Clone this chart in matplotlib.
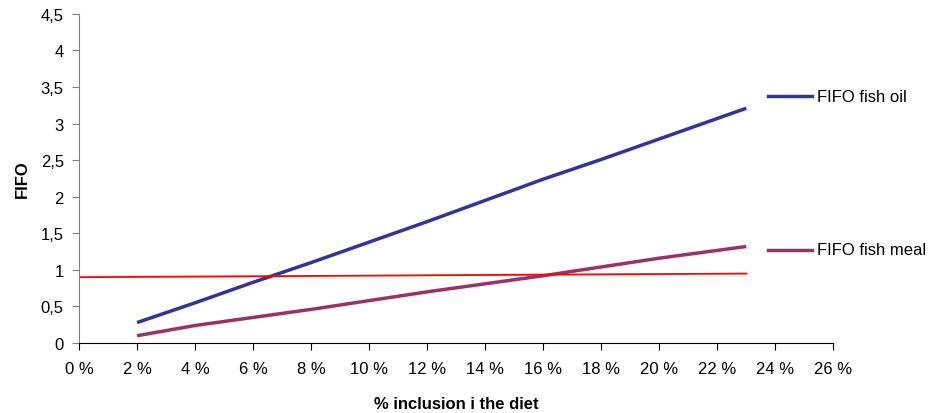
import matplotlib
matplotlib.use('Agg')
import matplotlib.pyplot as plt
from matplotlib.lines import Line2D
from matplotlib.ticker import FuncFormatter, MultipleLocator

plt.rcParams['font.family'] = ['Liberation Sans', 'DejaVu Sans']

# inclusion level (%) and FIFO values
incl = [2, 4, 6, 8, 10, 12, 14, 16, 18, 20, 23]
fifo_oil = [0.28, 0.55, 0.83, 1.10, 1.38, 1.66, 1.95, 2.24, 2.51, 2.79, 3.21]
fifo_meal = [0.10, 0.24, 0.35, 0.46, 0.58, 0.70, 0.81, 0.92, 1.04, 1.16, 1.32]
ref_x = [0, 23]
ref_y = [0.90, 0.95]

c_oil = '#333399'
c_meal = '#993366'
fs = 12

fig = plt.figure(figsize=(9.3, 4.14), dpi=100)
ax = fig.add_axes([0.085, 0.169, 0.811, 0.795])

ax.plot(incl, fifo_oil, color=c_oil, lw=2.5, solid_capstyle='butt')
ax.plot(incl, fifo_meal, color=c_meal, lw=2.5, solid_capstyle='butt')
ax.plot(ref_x, ref_y, color='#ff0000', lw=1.3)

ax.set_xlim(0, 26)
ax.set_ylim(0, 4.5)
ax.xaxis.set_major_locator(MultipleLocator(2))
ax.yaxis.set_major_locator(MultipleLocator(0.5))
ax.xaxis.set_major_formatter(FuncFormatter(lambda v, p: '%d %%' % round(v)))
ax.yaxis.set_major_formatter(FuncFormatter(lambda v, p: ('%g' % v).replace('.', ',')))

for s in ['top', 'right']:
    ax.spines[s].set_visible(False)
ax.spines['left'].set_color('#808080')
ax.spines['bottom'].set_color('black')
ax.tick_params(axis='both', labelsize=fs, length=5, direction='out')
ax.tick_params(axis='y', color='#808080', pad=6)
ax.tick_params(axis='x', pad=8)

ax.set_xlabel('% inclusion i the diet', fontsize=fs, fontweight='bold', labelpad=14)
ax.set_ylabel('FIFO', fontsize=fs, fontweight='bold', labelpad=8)

# legend at the right, placed like the original
fig.add_artist(Line2D([768/930, 812/930], [1 - 97/414, 1 - 97/414], color=c_oil, lw=2.5))
fig.text(817/930, 1 - 97/414, 'FIFO fish oil', fontsize=fs, va='center')
fig.add_artist(Line2D([768/930, 812/930], [1 - 251/414, 1 - 251/414], color=c_meal, lw=2.5))
fig.text(817/930, 1 - 251/414, 'FIFO fish meal', fontsize=fs, va='center')

fig.savefig('out.png', dpi=100)
